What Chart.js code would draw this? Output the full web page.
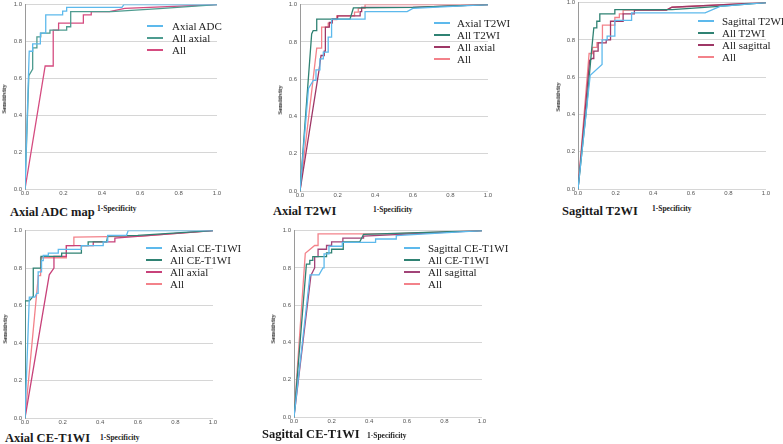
<!DOCTYPE html>
<html><head><meta charset="utf-8">
<script src="https://cdn.jsdelivr.net/npm/chart.js@4"></script>
<style>
html,body{margin:0;padding:0;background:#fff;width:783px;height:444px;overflow:hidden;position:relative;}
canvas{position:absolute;}
.t{position:absolute;white-space:nowrap;font-family:"Liberation Serif","Times New Roman",serif;color:#111;}
.title{font-size:12.5px;font-weight:bold;line-height:16px;color:#1a1a1a;}
.xl{font-size:7.5px;font-weight:bold;line-height:10px;color:#222;}
.yl{font-size:6.5px;font-weight:bold;line-height:8px;color:#222;transform:translate(-50%,-50%) rotate(-90deg);}
.lg{font-size:11px;line-height:12px;color:#222;}
.sw{position:absolute;height:2px;}
</style></head><body>
<script>
// ---------- data (FPR = 1-Specificity, TPR = Sensitivity) ----------
// Panel 1: Axial ADC map
const p1AxialADC_x = [0,0.022,0.04,0.04,0.08,0.08,0.108,0.108,0.196,0.196,0.217,0.217,0.505,0.515,1];
const p1AxialADC_y = [0,0.747,0.747,0.787,0.787,0.845,0.845,0.944,0.944,0.965,0.965,0.985,0.985,1,1];
const p1AllAxial_x = [0,0.02,0.04,0.04,0.062,0.062,0.082,0.082,0.13,0.13,0.217,0.217,0.238,0.238,0.45,0.7,1];
const p1AllAxial_y = [0,0.615,0.65,0.765,0.765,0.825,0.825,0.845,0.845,0.862,0.862,0.88,0.88,0.962,0.962,0.978,1];
const p1All_x = [0,0.105,0.147,0.147,0.175,0.175,0.304,0.304,0.345,0.345,0.44,0.52,1];
const p1All_y = [0,0.667,0.667,0.862,0.862,0.9,0.9,0.944,0.944,0.962,0.962,0.98,1];
// Panel 2: Axial T2WI
const p2AxialT2_x = [0,0.045,0.071,0.085,0.085,0.106,0.106,0.124,0.124,0.15,0.15,0.168,0.168,0.346,0.346,0.57,0.6,1];
const p2AxialT2_y = [0,0.55,0.594,0.594,0.65,0.65,0.709,0.709,0.745,0.745,0.825,0.825,0.922,0.922,0.962,0.962,0.98,1];
const p2AllT2_x = [0,0.062,0.07,0.089,0.089,0.266,0.284,0.6,1];
const p2AllT2_y = [0,0.843,0.86,0.86,0.922,0.922,0.982,0.985,1];
const p2AllAxial_x = [0,0.101,0.112,0.129,0.129,0.135,0.135,0.156,0.156,0.172,0.172,0.2,0.2,0.32,0.32,0.328,0.328,0.6,1];
const p2AllAxial_y = [0,0.647,0.727,0.727,0.75,0.75,0.879,0.879,0.905,0.905,0.923,0.923,0.94,0.94,0.962,0.962,0.985,0.985,1];
const p2All_x = [0,0.089,0.115,0.115,0.15,0.15,0.172,0.172,0.195,0.195,0.29,0.29,0.31,0.31,0.346,0.346,1];
const p2All_y = [0,0.766,0.766,0.879,0.879,0.9,0.9,0.92,0.92,0.94,0.94,0.96,0.96,0.98,0.98,1,1];
// Panel 3: Sagittal T2WI
const p3SagT2_x = [0,0.065,0.128,0.128,0.155,0.155,0.196,0.196,0.285,0.285,0.676,0.756,1];
const p3SagT2_y = [0,0.61,0.668,0.8,0.8,0.82,0.82,0.905,0.905,0.945,0.945,0.98,1];
const p3AllT2_x = [0,0.044,0.071,0.084,0.1,0.1,0.116,0.116,0.196,0.196,0.5,0.75,1];
const p3AllT2_y = [0,0.42,0.73,0.864,0.864,0.9,0.9,0.94,0.94,0.962,0.962,0.98,1];
const p3AllSag_x = [0,0.062,0.075,0.084,0.084,0.107,0.107,0.15,0.15,0.173,0.173,0.24,0.24,0.3,0.3,0.47,0.5,1];
const p3AllSag_y = [0,0.69,0.7,0.7,0.74,0.74,0.784,0.784,0.8,0.8,0.9,0.9,0.94,0.94,0.96,0.96,0.975,1];
const p3All_x = [0,0.059,0.077,0.077,0.101,0.101,0.13,0.13,0.196,0.196,0.22,0.22,0.24,0.24,0.47,0.5,1];
const p3All_y = [0,0.727,0.727,0.76,0.76,0.785,0.785,0.879,0.879,0.92,0.92,0.94,0.94,0.96,0.96,0.975,1];
// Panel 4: Axial CE-T1WI
const p4AxialCE_x = [0,0.023,0.053,0.062,0.07,0.07,0.088,0.088,0.097,0.097,0.124,0.124,0.177,0.177,0.3,0.3,0.416,0.416,0.44,0.44,0.54,0.549,1];
const p4AxialCE_y = [0,0.645,0.645,0.665,0.665,0.78,0.78,0.84,0.84,0.867,0.867,0.88,0.88,0.9,0.9,0.92,0.92,0.94,0.94,0.975,0.975,1,1];
const p4AllCE_x = [0,0,0.023,0.044,0.044,0.085,0.085,0.195,0.195,0.3,0.3,0.336,0.336,0.434,0.44,0.6,1];
const p4AllCE_y = [0,0.625,0.625,0.65,0.8,0.8,0.862,0.862,0.88,0.88,0.92,0.92,0.94,0.94,0.97,0.975,1];
const p4AllAxial_x = [0,0.129,0.154,0.154,0.22,0.22,0.363,0.363,0.478,0.478,1];
const p4AllAxial_y = [0,0.764,0.8,0.862,0.862,0.92,0.92,0.94,0.94,0.96,1];
const p4All_x = [0,0.071,0.083,0.083,0.22,0.22,0.26,0.26,0.62,1];
const p4All_y = [0,0.76,0.76,0.855,0.855,0.92,0.92,0.965,0.97,1];
// Panel 5: Sagittal CE-T1WI
const p5SagCE_x = [0,0.085,0.133,0.154,0.16,0.16,0.186,0.186,0.257,0.257,0.434,0.434,0.544,0.544,1];
const p5SagCE_y = [0,0.763,0.763,0.8,0.8,0.875,0.875,0.916,0.916,0.937,0.937,0.955,0.955,0.973,1];
const p5AllCE_x = [0,0.066,0.084,0.084,0.1,0.1,0.173,0.173,0.2,0.2,0.262,0.262,0.35,0.37,1];
const p5AllCE_y = [0,0.82,0.82,0.84,0.84,0.86,0.86,0.88,0.88,0.9,0.9,0.94,0.94,0.98,1];
const p5AllSag_x = [0,0.09,0.11,0.11,0.128,0.128,0.173,0.173,0.2,0.2,0.26,0.26,0.37,0.37,1];
const p5AllSag_y = [0,0.76,0.8,0.86,0.86,0.9,0.9,0.92,0.92,0.94,0.94,0.96,0.96,0.97,1];
const p5All_x = [0,0.06,0.11,0.128,0.128,0.5,1];
const p5All_y = [0,0.878,0.92,0.92,0.982,0.982,1];

const tickValues = [0,0.2,0.4,0.6,0.8,1.0];
const tickLabels = ["0.0","0.2","0.4","0.6","0.8","1.0"];

const C_BLUE='#5DB9EC', C_TEAL2='#2F8273', C_PINK='#D54C80', C_MAG='#9E3766', C_SAL='#F3828A', C_MAG4='#C8427A', C_PUR='#A24478';

const panels = [
  {box:{L:25,R:217,T:4,B:189}, title:"Axial ADC map", titlePos:[10,212], xlPos:[97,209], ylPos:[4,99], legPos:[147,172,26],
   series:[["Axial ADC",p1AxialADC_x,p1AxialADC_y,C_BLUE],["All axial",p1AllAxial_x,p1AllAxial_y,'#4E9C90'],["All",p1All_x,p1All_y,C_PINK]]},
  {box:{L:300,R:488,T:4,B:191}, title:"Axial T2WI", titlePos:[273,211], xlPos:[373,210], ylPos:[280,100], legPos:[434,457,23.3],
   series:[["Axial T2WI",p2AxialT2_x,p2AxialT2_y,C_BLUE],["All T2WI",p2AllT2_x,p2AllT2_y,C_TEAL2],["All axial",p2AllAxial_x,p2AllAxial_y,C_MAG],["All",p2All_x,p2All_y,C_SAL]]},
  {box:{L:578,R:766,T:2,B:189}, title:"Sagittal T2WI", titlePos:[562,211], xlPos:[652,209], ylPos:[558,97], legPos:[698,722,20.7],
   series:[["Sagittal T2WI",p3SagT2_x,p3SagT2_y,C_BLUE],["All T2WI",p3AllT2_x,p3AllT2_y,C_TEAL2],["All sagittal",p3AllSag_x,p3AllSag_y,C_MAG],["All",p3All_x,p3All_y,C_SAL]]},
  {box:{L:25,R:213,T:230,B:418}, title:"Axial CE-T1WI", titlePos:[5,438], xlPos:[100,438], ylPos:[5,329], legPos:[146,170,248],
   series:[["Axial  CE-T1WI",p4AxialCE_x,p4AxialCE_y,C_BLUE],["All CE-T1WI",p4AllCE_x,p4AllCE_y,C_TEAL2],["All axial",p4AllAxial_x,p4AllAxial_y,C_MAG4],["All",p4All_x,p4All_y,C_SAL]]},
  {box:{L:294,R:482,T:230,B:417}, title:"Sagittal CE-T1WI", titlePos:[262,434], xlPos:[367,436], ylPos:[273,329], legPos:[404,428,248],
   series:[["Sagittal CE-T1WI",p5SagCE_x,p5SagCE_y,C_BLUE],["All CE-T1WI",p5AllCE_x,p5AllCE_y,C_TEAL2],["All sagittal",p5AllSag_x,p5AllSag_y,C_PUR],["All",p5All_x,p5All_y,C_SAL]]}
];

function addText(cls, text, x, y, extra){
  const d=document.createElement('div'); d.className='t '+cls; d.textContent=text;
  d.style.left=x+'px'; d.style.top=y+'px'; if(extra) Object.assign(d.style, extra);
  document.body.appendChild(d); return d;
}

const PADL=22, PADR=8, PADT=6, PADB=12;
panels.forEach((p,i)=>{
  const b=p.box;
  const cv=document.createElement('canvas');
  const W=(b.R-b.L)+PADL+PADR, H=(b.B-b.T)+PADT+PADB;
  cv.width=W; cv.height=H; cv.style.width=W+'px'; cv.style.height=H+'px';
  cv.style.left=(b.L-PADL)+'px'; cv.style.top=(b.T-PADT)+'px';
  document.body.appendChild(cv);
  new Chart(cv,{
    type:'line',
    data:{datasets:p.series.map(s=>({label:s[0],data:s[1].map((x,k)=>({x:x,y:s[2][k]})),borderColor:s[3],borderWidth:1.3,pointRadius:0,tension:0,fill:false}))},
    options:{
      responsive:false, animation:false, devicePixelRatio:1,
      layout:{padding:{top:PADT,right:PADR,left:0,bottom:0}},
      plugins:{legend:{display:false},tooltip:{enabled:false}},
      scales:{
        x:{type:'linear',min:0,max:1,afterFit:s=>{s.height=PADB;},
           afterBuildTicks:s=>{s.ticks=tickValues.map(v=>({value:v}));},
           ticks:{padding:1,font:{size:6,family:'Liberation Sans'},color:'#555',maxRotation:0,callback:(v)=>tickLabels[tickValues.indexOf(Math.round(v*10)/10)]},
           grid:{display:false,drawTicks:false},border:{display:false}},
        y:{type:'linear',min:0,max:1,afterFit:s=>{s.width=PADL;},
           afterBuildTicks:s=>{s.ticks=tickValues.map(v=>({value:v}));},
           ticks:{padding:3,font:{size:6,family:'Liberation Sans'},color:'#555',callback:(v)=>tickLabels[tickValues.indexOf(Math.round(v*10)/10)]},
           grid:{color:'#d6d6d6',lineWidth:1,drawTicks:false},border:{display:true,color:'#9a9a9a',width:1}}
      }
    }
  });
  addText('title',p.title,p.titlePos[0],p.titlePos[1]-8);
  addText('xl','1-Specificity',p.xlPos[0],p.xlPos[1]-5);
  addText('yl','Sensitivity',p.ylPos[0],p.ylPos[1]);
  const [sx,tx,y0]=p.legPos;
  p.series.forEach((s,k)=>{
    const y=y0+k*12;
    const sw=document.createElement('div'); sw.className='sw';
    sw.style.left=sx+'px'; sw.style.top=(y-1)+'px'; sw.style.width='16px'; sw.style.background=s[3];
    document.body.appendChild(sw);
    addText('lg',s[0],tx,y-6);
  });
});
</script>
</body></html>
